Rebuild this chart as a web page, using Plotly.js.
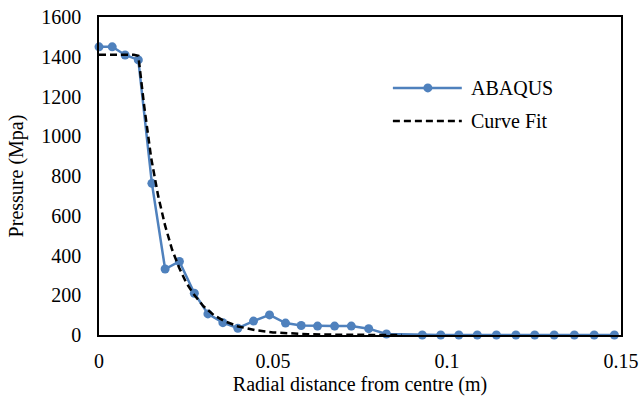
<!DOCTYPE html>
<html>
<head>
<meta charset="utf-8">
<script src="https://cdn.plot.ly/plotly-3.0.1.min.js"></script>
<style>
  .main-svg text { font-family: 'Liberation Serif', 'Times New Roman', serif !important; }
  .modebar-container { display: none !important; }
  #prime { position: absolute; left: 0; top: 0; z-index: -1; color: #fff; font-family: 'Liberation Serif'; font-size: 20px; }
</style>
</head>
<body style="margin:0;padding:0;background:#fff;">
<div id="prime">Radial distance Pressure 0123456789 ABAQUS Curve Fit</div>
<div id="chart" style="position:relative;"></div>
<script>
// ABAQUS results (radial distance in m, pressure in MPa)
const abaqusX = [0, 0.0038, 0.0075, 0.0113, 0.0152, 0.0190, 0.0231, 0.0274, 0.0313, 0.0356, 0.0399, 0.0444, 0.0490, 0.0536, 0.0581, 0.0628, 0.0677, 0.0725, 0.0775, 0.0826, 0.0929, 0.0982, 0.1034, 0.1087, 0.1142, 0.1198, 0.1252, 0.1308, 0.1366, 0.1423, 0.1481];
const abaqusY = [1450, 1450, 1409, 1384, 763, 332, 370, 210, 106, 62, 34, 70, 101, 60, 48, 45, 45, 45, 32, 5, 0, 0, 0, 0, 0, 0, 0, 0, 0, 0, 0];

// Curve fit
const fitX = [0, 0.005, 0.010, 0.0113, 0.013, 0.015, 0.017, 0.019, 0.021, 0.023, 0.025, 0.027, 0.030, 0.033, 0.036, 0.040, 0.045, 0.050, 0.055, 0.060, 0.070, 0.080, 0.087];
const fitY = [1410, 1410, 1410, 1405, 1150, 890, 700, 550, 430, 340, 265, 210, 145, 100, 70, 43, 24, 13, 7, 4, 1, 0.3, 0];

const seriesNames = ["ABAQUS", "Curve Fit"];
const xTicks = [0, 0.05, 0.1, 0.15];
const xTickText = ["0", "0.05", "0.1", "0.15"];
const yTicks = [0, 200, 400, 600, 800, 1000, 1200, 1400, 1600];

const FAM = "Liberation Serif";
const BLUE = "#4F81BD";
const INK = "#000000";

const traces = [
  {
    x: abaqusX, y: abaqusY, name: seriesNames[0], type: "scatter", mode: "lines+markers",
    line: {color: BLUE, width: 2.5},
    marker: {color: BLUE, size: 9},
    cliponaxis: false, showlegend: false
  },
  {
    x: fitX, y: fitY, name: seriesNames[1], type: "scatter", mode: "lines",
    line: {color: "#000000", width: 2.5, dash: "7px,4px"},
    showlegend: false
  }
];

// Legend drawn in paper coordinates (line sample + label)
const legY = [0.777, 0.673];
const legX0 = 0.563, legX1 = 0.695, legTextX = 0.708;
const mrx = 4.5 / 522, mry = 4.5 / 318, mcx = 0.630;

const layout = {
  width: 640, height: 403,
  margin: {l: 99, r: 19, t: 17, b: 68},
  paper_bgcolor: "rgba(255,255,255,0)", plot_bgcolor: "rgba(255,255,255,0)",
  showlegend: false,
  shapes: [
    {type: "line", xref: "paper", yref: "paper", x0: legX0, x1: legX1, y0: legY[0], y1: legY[0], line: {color: BLUE, width: 2.5}},
    {type: "circle", xref: "paper", yref: "paper", x0: mcx - mrx, x1: mcx + mrx, y0: legY[0] - mry, y1: legY[0] + mry, fillcolor: BLUE, line: {color: BLUE, width: 0}},
    {type: "line", xref: "paper", yref: "paper", x0: legX0, x1: legX1, y0: legY[1], y1: legY[1], line: {color: "#000", width: 2.5, dash: "7px,4px"}}
  ],
  annotations: [
    {xref: "paper", yref: "paper", x: legTextX, y: legY[0], text: seriesNames[0], showarrow: false, xanchor: "left", yanchor: "middle", font: {family: FAM, size: 20, color: INK}},
    {xref: "paper", yref: "paper", x: legTextX, y: legY[1], text: seriesNames[1], showarrow: false, xanchor: "left", yanchor: "middle", font: {family: FAM, size: 20, color: INK}}
  ],
  xaxis: {
    range: [0, 0.15], tickvals: xTicks, ticktext: xTickText,
    showgrid: false, zeroline: false, showline: true, mirror: true,
    linecolor: "#000", linewidth: 1.5, ticks: "outside", ticklen: 7, tickcolor: "rgba(0,0,0,0)",
    tickfont: {family: FAM, size: 20, color: INK},
    title: {text: "Radial distance from centre (m)", font: {family: FAM, size: 20, color: INK}, standoff: 6}
  },
  yaxis: {
    range: [0, 1600], tickvals: yTicks,
    showgrid: false, zeroline: false, showline: true, mirror: true,
    linecolor: "#000", linewidth: 1.5, ticks: "outside", ticklen: 12, tickcolor: "rgba(0,0,0,0)",
    tickfont: {family: FAM, size: 20, color: INK},
    title: {text: "Pressure (Mpa)", font: {family: FAM, size: 20, color: INK}, standoff: 12}
  }
};

function draw() {
  Plotly.newPlot("chart", traces, layout).then(function () {
    document.querySelectorAll("#chart svg text").forEach(function (t) {
      t.style.setProperty("font-family", "'Liberation Serif', 'Times New Roman', serif", "important");
    });
  });
}
if (document.fonts && document.fonts.load) {
  document.fonts.load("20px 'Liberation Serif'").then(draw, draw);
} else {
  draw();
}
</script>
</body>
</html>
